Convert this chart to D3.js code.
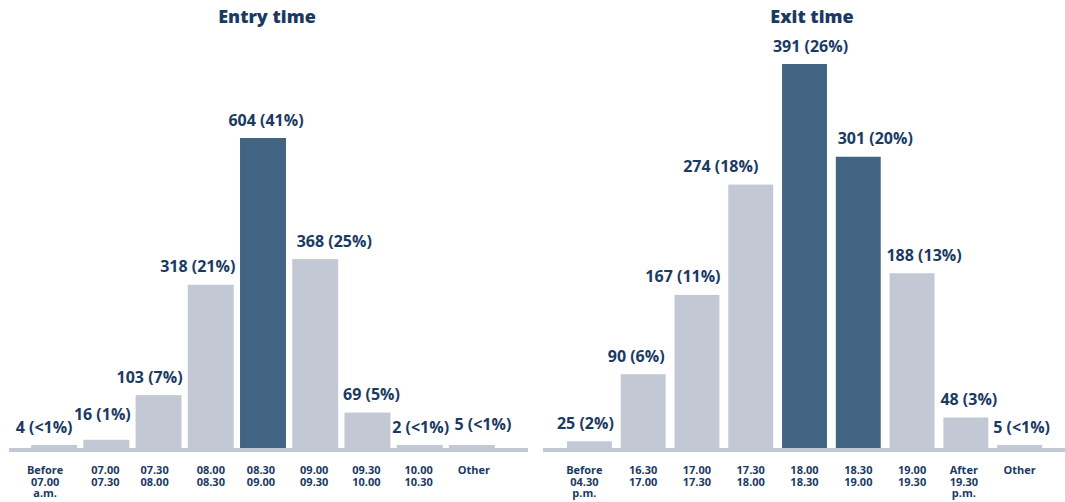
<!DOCTYPE html>
<html>
<head>
<meta charset="utf-8">
<script src="https://cdn.jsdelivr.net/npm/d3@7"></script>
<style>
html,body{margin:0;padding:0;background:#fff;}
svg{display:block;font-family:"Open Sans",sans-serif;}
</style>
</head>
<body>
<svg id="chart" width="1065" height="502"></svg>
<script>
const entryCategories = [["Before","07.00","a.m."],["07.00","07.30"],["07.30","08.00"],["08.00","08.30"],["08.30","09.00"],["09.00","09.30"],["09.30","10.00"],["10.00","10.30"],["Other"]];
const entryValues = [4,16,103,318,604,368,69,2,5];
const entryPct = ["<1%","1%","7%","21%","41%","25%","5%","<1%","<1%"];
const entryHighlight = [false,false,false,false,true,false,false,false,false];

const exitCategories = [["Before","04.30","p.m."],["16.30","17.00"],["17.00","17.30"],["17.30","18.00"],["18.00","18.30"],["18.30","19.00"],["19.00","19.30"],["After","19.30","p.m."],["Other"]];
const exitValues = [25,90,167,274,391,301,188,48,5];
const exitPct = ["2%","6%","11%","18%","26%","20%","13%","3%","<1%"];
const exitHighlight = [false,false,false,false,true,true,false,false,false];

// label placement nudges (layout only, in px)
const entryLabelDx = [-10,-4,-9,-13,3,19,4,1,11];
const entryLabelDy = [0,-7,0,0,0,0,0,0,-3];
const entryCatDx = [-9,-1,-4,0,-2,-1,-1,-1,2];
const exitLabelDx = [-4,-7,-14,-30,6,17,12,3,2];
const exitLabelDy = [0,0,0,0,0,0,0,0,0];
const exitCatDx = [-5,0,0,0,0,0,0,-2,0];

const TEXT = "#1b3a63", DARK = "#406482", LIGHT = "#c3c8d5";
const svg = d3.select("#chart");

function panel(cfg){
  const g = svg.append("g");
  const x = d3.scaleBand().domain(d3.range(cfg.values.length)).range(cfg.xRange).paddingInner(cfg.padInner).paddingOuter(cfg.padOuter);
  const y = d3.scaleLinear().domain([0, d3.max(cfg.values)]).range(cfg.yRange);
  const base = cfg.base;
  const top = d => Math.min(y(d), base-3);
  g.selectAll("rect.bar").data(cfg.values).join("rect")
    .attr("class","bar")
    .attr("x",(d,i)=>x(i)).attr("width",x.bandwidth())
    .attr("y",top)
    .attr("height",d=>base - top(d))
    .attr("fill",(d,i)=>cfg.highlight[i]?DARK:LIGHT);
  g.append("rect").attr("x",cfg.axis[0]).attr("width",cfg.axis[1]-cfg.axis[0])
    .attr("y",base).attr("height",4).attr("fill",LIGHT);
  g.selectAll("text.val").data(cfg.values).join("text")
    .attr("class","val")
    .attr("x",(d,i)=>x(i)+x.bandwidth()/2+cfg.labelDx[i])
    .attr("y",(d,i)=>top(d)-12.5+cfg.labelDy[i])
    .attr("text-anchor","middle").attr("fill",TEXT)
    .attr("font-size","16px").attr("font-weight",700)
    .text((d,i)=>d+" ("+cfg.pct[i]+")");
  const cl = g.selectAll("text.cat").data(cfg.categories).join("text")
    .attr("class","cat")
    .attr("y",474)
    .attr("text-anchor","middle").attr("fill",TEXT)
    .attr("font-size","11px").attr("font-weight",700);
  cl.each(function(d,i){
    const t = d3.select(this);
    const cx = x(i)+x.bandwidth()/2+cfg.catDx[i];
    d.forEach((line,j)=>{
      t.append("tspan").attr("x",cx).attr("dy", j===0?0:11.5).text(line);
    });
  });
  g.append("text").attr("x",cfg.titleX).attr("y",23)
    .attr("text-anchor","middle").attr("fill",TEXT)
    .attr("font-size","18px").attr("font-weight",800)
    .text(cfg.title);
}

panel({
  title:"Entry time", titleX:267,
  categories:entryCategories, values:entryValues, pct:entryPct, highlight:entryHighlight,
  labelDx:entryLabelDx, labelDy:entryLabelDy, catDx:entryCatDx,
  xRange:[28,498], padInner:0.12, padOuter:0.06,
  yRange:[448,138], base:448, axis:[9,528]
});
panel({
  title:"Exit time", titleX:812,
  categories:exitCategories, values:exitValues, pct:exitPct, highlight:exitHighlight,
  labelDx:exitLabelDx, labelDy:exitLabelDy, catDx:exitCatDx,
  xRange:[562.5,1046.5], padInner:0.165, padOuter:0.0825,
  yRange:[467,64], base:448, axis:[543,1065]
});
</script>
</body>
</html>
